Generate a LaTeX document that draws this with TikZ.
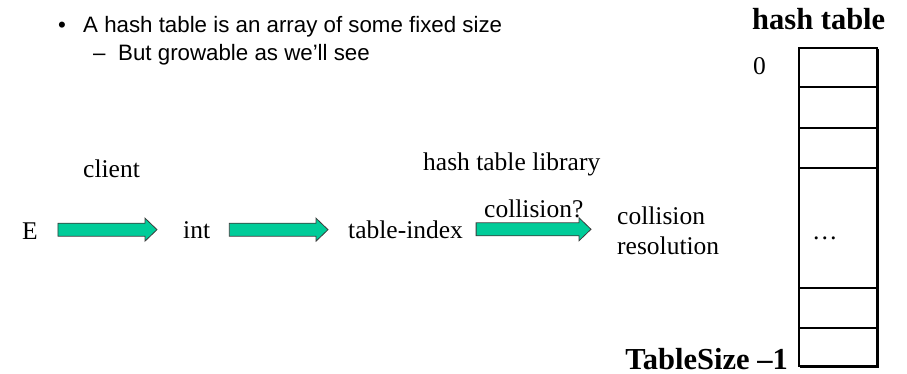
\documentclass[tikz,border=0pt]{standalone}
\usepackage{fontspec}
\setmainfont{Liberation Serif}
\newfontfamily\arialfont{Liberation Sans}
\usetikzlibrary{calc}
\definecolor{arrowgreen}{RGB}{0,204,153}
\definecolor{edgegray}{RGB}{60,60,60}

% fat block arrow from #1 to #2 (both at the same height)
\newcommand{\fatarrow}[2]{%
  \draw[fatarrow] ($(#1)+(0,-6.5)$) -- ($(#2)+(-12,-6.5)$) -- ($(#2)+(-12,-11.5)$) -- (#2)
    -- ($(#2)+(-12,11.5)$) -- ($(#2)+(-12,6.5)$) -- ($(#1)+(0,6.5)$) -- cycle;}

\begin{document}
\begin{tikzpicture}[x=1pt, y=-1pt,
    txt/.style={font=\fontsize{25.5}{30}\selectfont, inner sep=0pt, anchor=base west},
    boldtxt/.style={font=\fontsize{30.5}{34}\selectfont\bfseries, inner sep=0pt, anchor=base west},
    slide/.style={font=\arialfont\fontsize{22.3}{26}\selectfont, inner sep=0pt, anchor=base west},
    fatarrow/.style={fill=arrowgreen, draw=edgegray, line width=0.8pt, line join=miter},
    cell/.style={draw=black, line width=1.4pt}]
    \useasboundingbox (0,0) rectangle (907,374);

    % Bullet points
    \node[slide] (dot) at (58,33) {•};
    \node[slide] (point) at (83,33) {A hash table is an array of some fixed size};
    \node[slide] (dash) at (93,61) {–};
    \node[slide] (subpoint) at (118,61) {But growable as we’ll see};

    % Pipeline labels
    \node[txt] (client) at (83,178) {client};
    \node[txt] (library) at (423,171) {hash table library};
    \node[txt] (E) at (22,239) {E};
    \node[txt] (int) at (183,238) {int};
    \node[txt] (index) at (348,238) {table-index};
    \node[txt] (coll) at (484,218) {collision?};
    \node[txt, align=left, anchor=north west] (resol) at (617,207) {collision\\resolution};

    % Arrows between the stages
    \coordinate (a1) at ($(E.east)+(20,-1)$);
    \coordinate (b1) at ($(a1 -| int.west)+(-26,0)$);
    \coordinate (a2) at ($(int.east)+(19,0)$);
    \coordinate (b2) at ($(a2 -| index.west)+(-20,0)$);
    \coordinate (a3) at ($(index.east)+(13,0)$);
    \coordinate (b3) at ($(a3 -| resol.west)+(-26,0)$);
    \fatarrow{a1}{b1}
    \fatarrow{a2}{b2}
    \fatarrow{a3}{b3}

    % Hash table
    \node[boldtxt] (title) at (752,30) {hash table};
    \node[txt] (zero) at (753,75) {0};
    \node[boldtxt, anchor=base east] (last) at (788,369) {TableSize –1};
    \node[txt] (dots) at (812,239) {…};
    \draw[cell] (799,48) rectangle (877,366);
    \foreach \y in {87,128,168,288,328}
        \draw[cell, line width=1.1pt] (799,\y) -- (877,\y);
    % shadow on the right and bottom
    \draw[line width=1.3pt] (878.3,49) -- (878.3,367.3) -- (800,367.3);
\end{tikzpicture}
\end{document}
